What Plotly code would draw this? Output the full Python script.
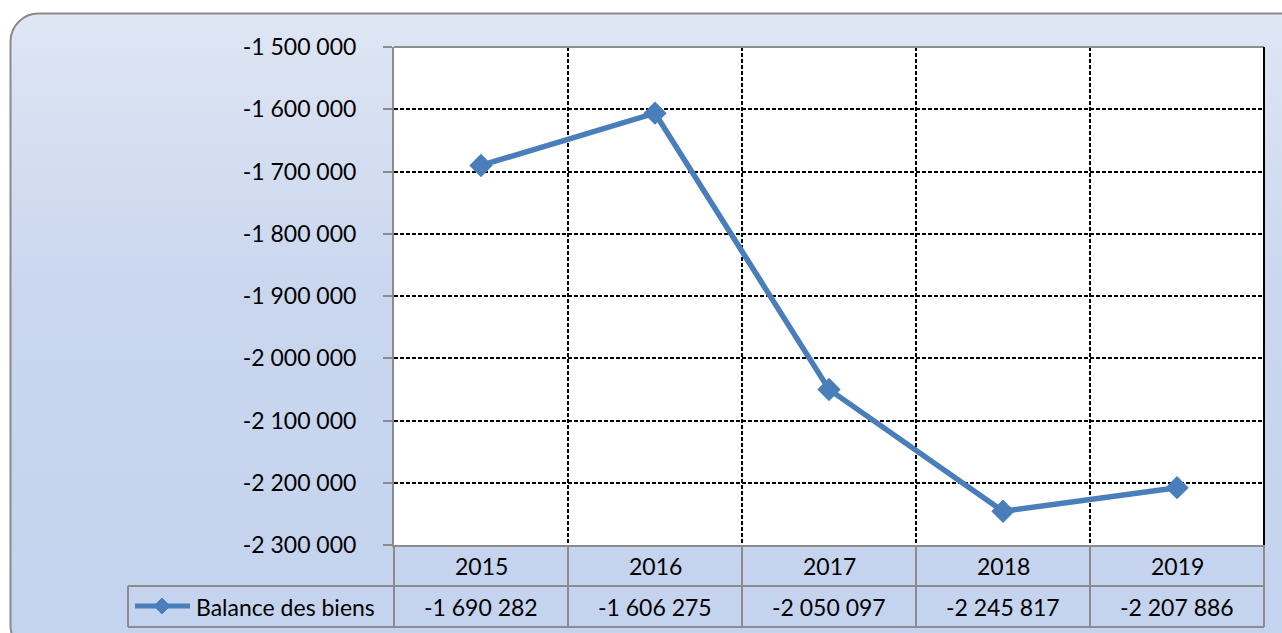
import base64
import plotly.graph_objects as go

years = ["2015", "2016", "2017", "2018", "2019"]
balance = [-1690282, -1606275, -2050097, -2245817, -2207886]
series_name = "Balance des biens"
y_ticks = [-2300000, -2200000, -2100000, -2000000, -1900000,
           -1800000, -1700000, -1600000, -1500000]

W, H = 1282, 633
L, R, T, B = 394, 1264, 47, 545   # plot area in pixels
FONT = "Lato"
BLUE = "#4a7ebb"
GRAY = "#8c8c8c"


def fmt(v):
    s = f"{abs(v):,}".replace(",", " ")
    return ("-" if v < 0 else "") + s


def px(x):
    return (x - L) / (R - L)


def py(y):
    return (B - y) / (B - T)


x_pos = list(range(1, len(years) + 1))

fig = go.Figure()
fig.add_trace(go.Scatter(
    x=x_pos, y=balance, mode="lines+markers", name=series_name,
    line=dict(color=BLUE, width=5.5),
    marker=dict(symbol="diamond", size=18, color=BLUE),
    showlegend=False, cliponaxis=False
))

# gradient background with rounded frame
svg = f'''<svg xmlns="http://www.w3.org/2000/svg" width="{W}" height="{H}">
<defs><linearGradient id="g" x1="0" y1="0" x2="0" y2="1">
<stop offset="0" stop-color="#dfe6f4"/><stop offset="0.45" stop-color="#c9d6ee"/>
<stop offset="1" stop-color="#c4d3ee"/></linearGradient></defs>
<rect x="10.5" y="13.5" width="1320" height="640" rx="28" ry="28" fill="url(#g)" stroke="#8a8a8a" stroke-width="2"/>
</svg>'''
src = "data:image/svg+xml;base64," + base64.b64encode(svg.encode()).decode()

shapes = [dict(type="rect", xref="paper", yref="paper", x0=0, x1=1, y0=0, y1=1,
               fillcolor="white", line=dict(width=0), layer="below")]
line_gray = dict(color=GRAY, width=2)
# table grid
cells_x = [L + i * (R - L) / len(years) for i in range(len(years) + 1)]
for cx in cells_x:
    shapes.append(dict(type="line", xref="paper", yref="paper",
                       x0=px(cx), x1=px(cx), y0=py(B), y1=py(627), line=line_gray))
shapes.append(dict(type="line", xref="paper", yref="paper",
                   x0=px(128), x1=px(128), y0=py(586), y1=py(627), line=line_gray))
for ly in [586, 627]:
    shapes.append(dict(type="line", xref="paper", yref="paper",
                       x0=px(128), x1=px(R), y0=py(ly), y1=py(ly), line=line_gray))
# plot area frame
shapes.append(dict(type="line", xref="paper", yref="paper",
                   x0=0, x1=1, y0=1, y1=1, line=dict(color=GRAY, width=2)))
shapes.append(dict(type="line", xref="paper", yref="paper",
                   x0=1, x1=1, y0=0, y1=1, line=dict(color="black", width=2)))
# legend key
shapes.append(dict(type="line", xref="paper", yref="paper",
                   x0=px(135), x1=px(190), y0=py(606), y1=py(606),
                   line=dict(color=BLUE, width=5)))
dx, dy = 8, 8
shapes.append(dict(type="path", xref="paper", yref="paper",
                   path=f"M {px(162-dx)},{py(606)} L {px(162)},{py(606-dy)} "
                        f"L {px(162+dx)},{py(606)} L {px(162)},{py(606+dy)} Z",
                   fillcolor=BLUE, line=dict(color=BLUE, width=1)))

annotations = []
for i, (yr, v) in enumerate(zip(years, balance)):
    cx = (cells_x[i] + cells_x[i + 1]) / 2
    annotations.append(dict(x=px(cx), y=py(566), xref="paper", yref="paper",
                            text=yr, showarrow=False, xanchor="center", yanchor="middle",
                            font=dict(family=FONT, size=23, color="black")))
    annotations.append(dict(x=px(cx), y=py(607), xref="paper", yref="paper",
                            text=fmt(v), showarrow=False, xanchor="center", yanchor="middle",
                            font=dict(family=FONT, size=23, color="black")))
annotations.append(dict(x=px(194), y=py(607), xref="paper", yref="paper",
                        text=series_name, showarrow=False, xanchor="left", yanchor="middle",
                        font=dict(family=FONT, size=23, color="black")))

fig.update_layout(
    width=W, height=H,
    margin=dict(l=L, r=W - R, t=T, b=H - B, pad=0),
    paper_bgcolor="white",
    plot_bgcolor="white",
    font=dict(family=FONT, size=23, color="black"),
    images=[dict(source=src, xref="paper", yref="paper",
                 x=-L / (R - L), y=1 + T / (B - T),
                 sizex=W / (R - L), sizey=H / (B - T),
                 xanchor="left", yanchor="top", sizing="stretch", layer="below")],
    shapes=shapes,
    annotations=annotations,
    xaxis=dict(range=[0.5, len(years) + 0.5], tickvals=[1.5, 2.5, 3.5, 4.5],
               showticklabels=False, ticks="", showgrid=True,
               gridcolor="black", gridwidth=1.5, griddash="4px,2px",
               showline=True, linecolor=GRAY, linewidth=2, zeroline=False),
    yaxis=dict(range=[y_ticks[0], y_ticks[-1]], tickvals=y_ticks,
               ticktext=[fmt(v) for v in y_ticks],
               ticks="outside", ticklen=9, tickcolor=GRAY, tickwidth=2,
               showgrid=True, gridcolor="black", gridwidth=1.5, griddash="4px,2px",
               showline=True, linecolor=GRAY, linewidth=2, zeroline=False,
               ticklabelstandoff=22),
)

# drop the page margin so the figure sits at the window's corner
fig.write_html("out.html", default_width=f"{W}px", default_height=f"{H}px",
               config={"displayModeBar": False},
               post_script="document.body.style.margin='0';"
                           "document.body.style.overflow='hidden';")
